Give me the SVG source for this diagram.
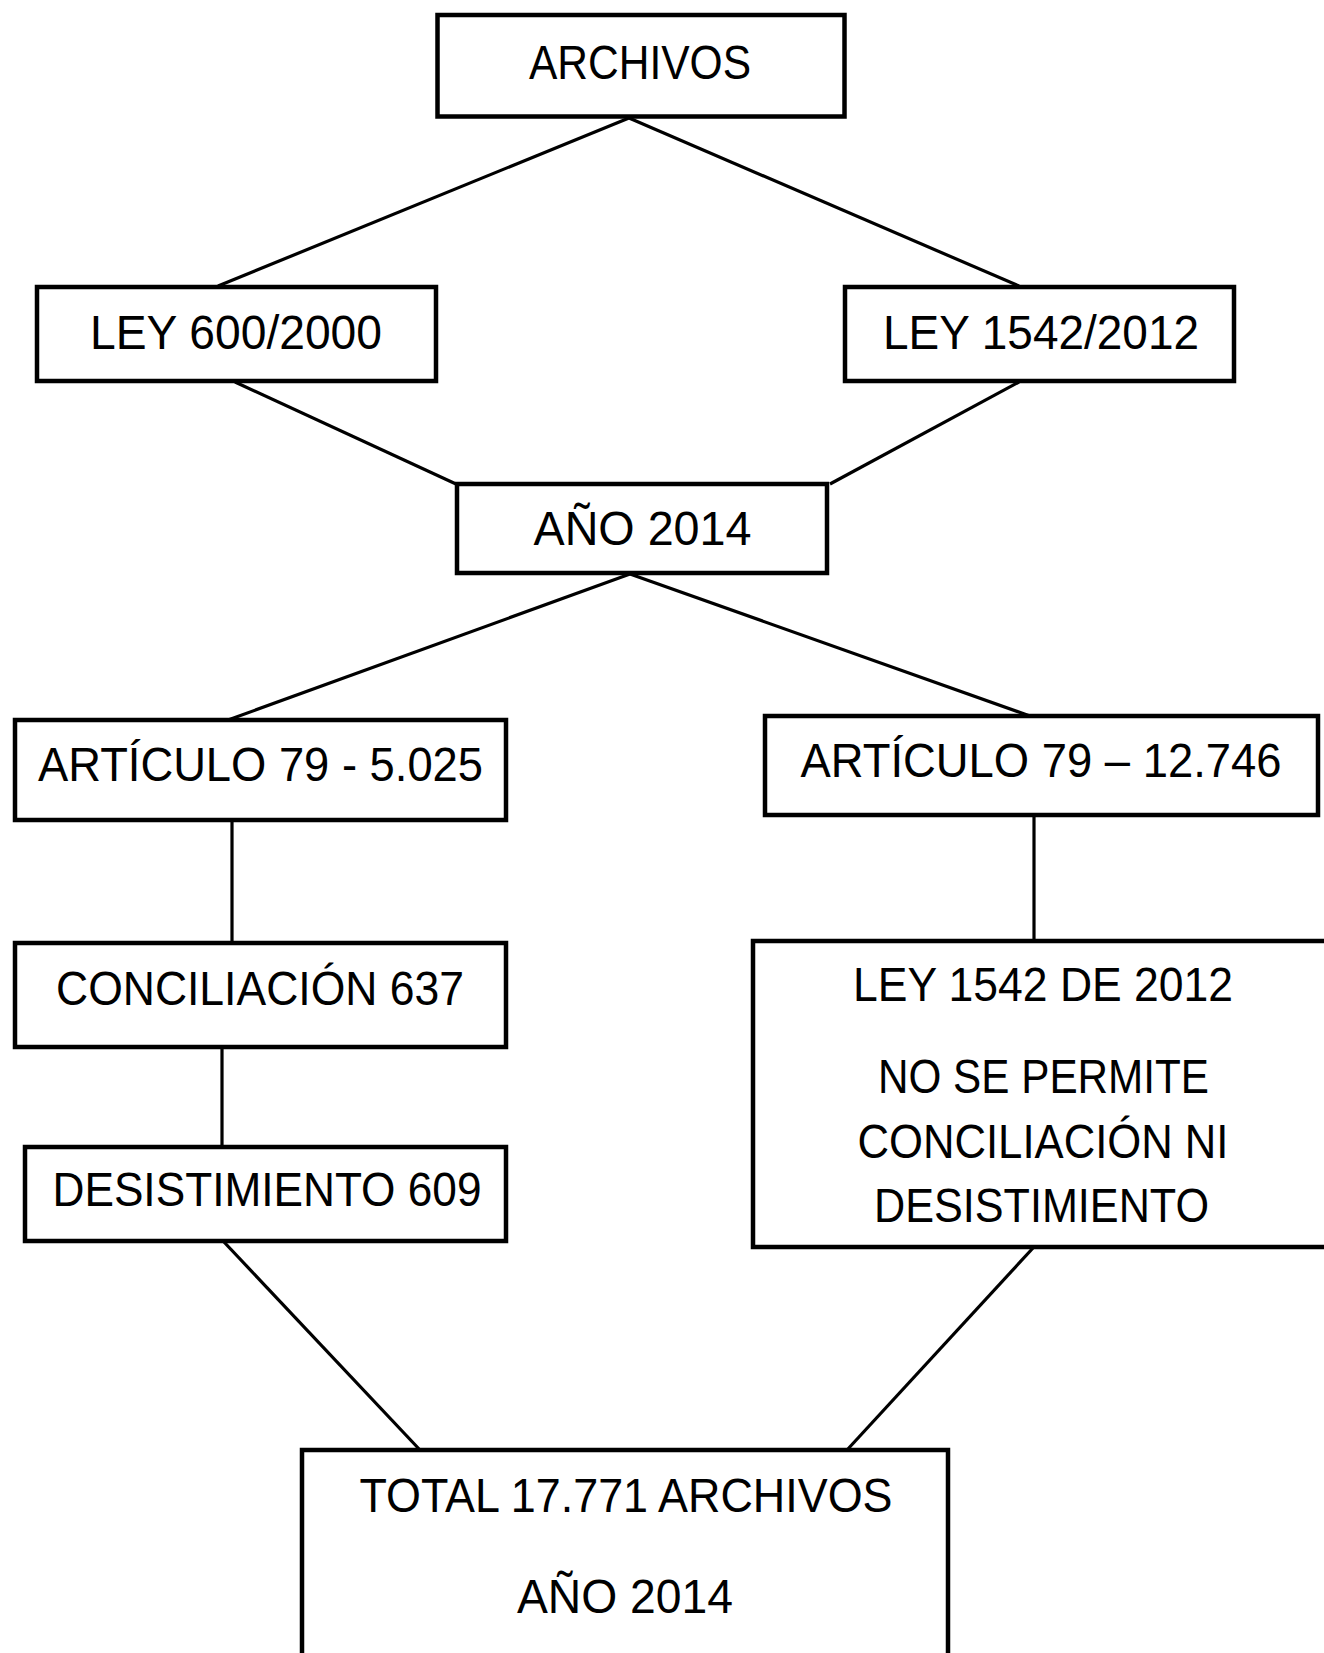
<svg xmlns="http://www.w3.org/2000/svg" width="1324" height="1653" viewBox="0 0 1324 1653">
<style>
.box{fill:#fff;stroke:#000;stroke-width:4.5}
.ln{stroke:#000;stroke-width:3.2;fill:none}
text{font-family:"Liberation Sans",Arial,sans-serif;font-size:48px;fill:#000;text-anchor:middle}
</style>
<rect width="1324" height="1653" fill="#fff"/>
<g id="connectors">
<line class="ln" x1="629" y1="118" x2="218" y2="286"/>
<line class="ln" x1="629" y1="118" x2="1019" y2="286"/>
<line class="ln" x1="235" y1="382" x2="456" y2="484"/>
<line class="ln" x1="1019" y1="382" x2="830" y2="484"/>
<line class="ln" x1="630" y1="574" x2="228" y2="720"/>
<line class="ln" x1="630" y1="574" x2="1030" y2="716"/>
<line class="ln" x1="232" y1="820" x2="232" y2="943"/>
<line class="ln" x1="222" y1="1047" x2="222" y2="1147"/>
<line class="ln" x1="1034" y1="815" x2="1034" y2="941"/>
<line class="ln" x1="224" y1="1242" x2="420" y2="1450"/>
<line class="ln" x1="1033" y1="1248" x2="847" y2="1450"/>
</g>
<g id="archivos">
<rect class="box" x="437.5" y="15" width="407" height="101.5"/>
<text x="640" y="78.5" textLength="222" lengthAdjust="spacingAndGlyphs">ARCHIVOS</text>
</g>
<g id="ley600">
<rect class="box" x="37" y="287" width="399" height="94"/>
<text x="236" y="349" textLength="292" lengthAdjust="spacingAndGlyphs">LEY 600/2000</text>
</g>
<g id="ley1542">
<rect class="box" x="845" y="287" width="389" height="94"/>
<text x="1041" y="349" textLength="316" lengthAdjust="spacingAndGlyphs">LEY 1542/2012</text>
</g>
<g id="ano2014">
<rect class="box" x="457" y="484" width="370" height="89"/>
<text x="642.5" y="545" textLength="218" lengthAdjust="spacingAndGlyphs">AÑO 2014</text>
</g>
<g id="art-left">
<rect class="box" x="15" y="720" width="491" height="100"/>
<text x="260.5" y="781" textLength="445" lengthAdjust="spacingAndGlyphs">ARTÍCULO 79 - 5.025</text>
</g>
<g id="art-right">
<rect class="box" x="765" y="716" width="553" height="99"/>
<text x="1041" y="777" textLength="481" lengthAdjust="spacingAndGlyphs">ARTÍCULO 79 – 12.746</text>
</g>
<g id="conciliacion">
<rect class="box" x="15" y="943" width="491" height="104"/>
<text x="260" y="1005" textLength="408" lengthAdjust="spacingAndGlyphs">CONCILIACIÓN 637</text>
</g>
<g id="desistimiento">
<rect class="box" x="25" y="1147" width="481" height="94"/>
<text x="267" y="1206" textLength="429" lengthAdjust="spacingAndGlyphs">DESISTIMIENTO 609</text>
</g>
<g id="ley1542-note">
<rect class="box" x="753" y="941" width="580" height="306"/>
<text x="1043" y="1001" textLength="380" lengthAdjust="spacingAndGlyphs">LEY 1542 DE 2012</text>
<text x="1043.5" y="1093" textLength="331" lengthAdjust="spacingAndGlyphs">NO SE PERMITE</text>
<text x="1043" y="1158" textLength="371" lengthAdjust="spacingAndGlyphs">CONCILIACIÓN NI</text>
<text x="1041.5" y="1222" textLength="335" lengthAdjust="spacingAndGlyphs">DESISTIMIENTO</text>
</g>
<g id="total">
<rect class="box" x="302" y="1450" width="646" height="240"/>
<text x="626" y="1512" textLength="533" lengthAdjust="spacingAndGlyphs">TOTAL 17.771 ARCHIVOS</text>
<text x="625" y="1613" textLength="216" lengthAdjust="spacingAndGlyphs">AÑO 2014</text>
</g>
</svg>
